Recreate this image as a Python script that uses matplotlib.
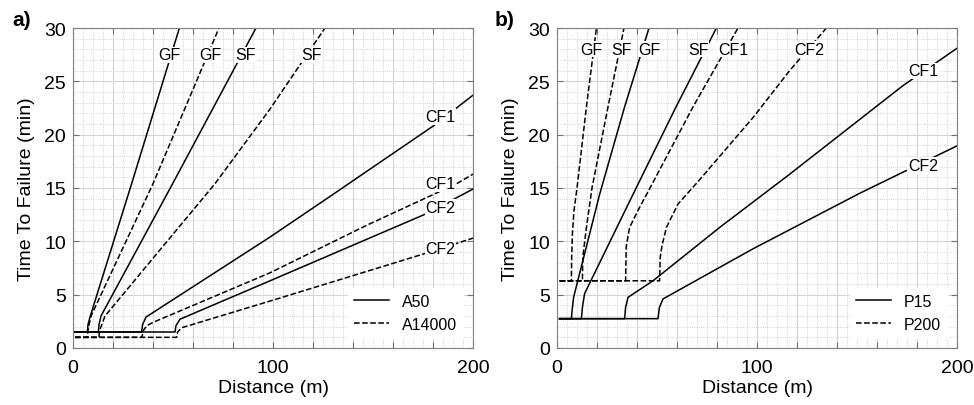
import numpy as np
import matplotlib
matplotlib.use('Agg')
import matplotlib.pyplot as plt
from matplotlib.ticker import MultipleLocator, FixedFormatter, FixedLocator
from matplotlib.lines import Line2D

plt.rcParams['font.family'] = ['Liberation Sans', 'DejaVu Sans']

# ---- panel a) : A50 (solid), A14000 (dashed)
a50_gf_x = [1, 7.2, 7.5, 8.5, 29.3, 53.2]
a50_gf_t = [1.5, 1.5, 2.2, 2.9, 15.4, 30]
a50_sf_x = [1, 12.7, 13.0, 14.0, 49.8, 91.5]
a50_sf_t = [1.5, 1.5, 2.2, 3.0, 15.4, 30]
a50_cf1_x = [1, 34.3, 34.8, 36.5, 98.5, 130, 180, 200]
a50_cf1_t = [1.5, 1.5, 2.2, 2.9, 10.4, 14.4, 20.8, 23.7]
a50_cf2_x = [1, 51, 51.5, 53.5, 98.5, 176.8, 200]
a50_cf2_t = [1.5, 1.5, 2.1, 2.7, 6.3, 12.6, 14.9]

a14k_gf_x = [1, 7.3, 7.4, 9, 40, 73]
a14k_gf_t = [1.0, 1.0, 1.6, 3, 15.4, 30]
a14k_sf_x = [1, 13.0, 13.2, 16, 71, 98.5, 126]
a14k_sf_t = [1.0, 1.0, 1.6, 3.0, 15.4, 22.4, 30]
a14k_cf1_x = [1, 34.5, 35, 37, 40, 98.5, 146.8, 191.8, 200]
a14k_cf1_t = [1.0, 1.0, 1.6, 2.1, 2.4, 7.05, 11.5, 15.4, 16.3]
a14k_cf2_x = [1, 51.8, 52.3, 54.3, 98.5, 175, 200]
a14k_cf2_t = [1.0, 1.0, 1.5, 1.9, 4.4, 8.8, 10.3]

# ---- panel b) : P15 (solid), P200 (dashed)
p15_gf_x = [1.3, 7.2, 7.6, 8.3, 21.3, 33.8, 46]
p15_gf_t = [2.75, 2.75, 3.6, 4.75, 14.4, 22.6, 30]
p15_sf_x = [1.3, 12.2, 12.7, 13.8, 38, 59.5, 79.7]
p15_sf_t = [2.75, 2.75, 3.8, 5.1, 14.4, 22.6, 30]
p15_cf1_x = [1.3, 33.8, 34.3, 35.5, 48, 82, 115, 173, 200]
p15_cf1_t = [2.75, 2.75, 3.8, 4.75, 6.3, 11.4, 16.1, 24.6, 28.1]
p15_cf2_x = [1.3, 50.5, 51.2, 53, 98, 151.3, 200]
p15_cf2_t = [2.75, 2.75, 3.8, 4.6, 9.3, 14.5, 18.95]

p200_gf_x = [1.3, 7.2, 7.3, 7.7, 8.5, 10.0, 14.7, 19.7]
p200_gf_t = [6.3, 6.3, 8.2, 10.7, 12.9, 15.0, 22.6, 30]
p200_sf_x = [1.3, 12.7, 12.9, 14.7, 17.5, 25.5, 33.5]
p200_sf_t = [6.3, 6.3, 8.5, 11.3, 15.0, 22.6, 30]
p200_cf1_x = [1.3, 34.3, 34.6, 36.3, 40.5, 46.5, 68, 90.5]
p200_cf1_t = [6.3, 6.3, 9.5, 11.3, 12.9, 15.0, 22.6, 30]
p200_cf2_x = [1.3, 51.3, 51.6, 52.5, 54.7, 60.5, 70.5, 98, 116.3, 134.7]
p200_cf2_t = [6.3, 6.3, 8.5, 9.6, 11.3, 13.5, 15.6, 21.6, 26, 30]

# curve labels: (text, x, t)
labels_a = [('GF', 48, 27.5), ('GF', 68.5, 27.5), ('SF', 86.3, 27.5), ('SF', 119.3, 27.5),
            ('CF1', 183.8, 21.7), ('CF1', 183.8, 15.4), ('CF2', 183.8, 13.2), ('CF2', 183.8, 9.3)]
labels_b = [('GF', 17.2, 28), ('SF', 32.2, 28), ('GF', 46.3, 28), ('SF', 70.8, 28),
            ('CF1', 88, 28), ('CF2', 126.3, 28), ('CF1', 183, 26), ('CF2', 183, 17.1)]

x_ticks = [0, 20, 40, 60, 80, 100, 120, 140, 160, 180, 200]
x_ticklabels = ['0', '', '', '', '', '100', '', '', '', '', '200']

fig = plt.figure(figsize=(9.74, 4.06), dpi=100)
ax_a = fig.add_axes([73/974, 57/406, 400/974, 320/406])
ax_b = fig.add_axes([557/974, 57/406, 400/974, 320/406])

lw = 1.1
ax_a.plot(a50_gf_x, a50_gf_t, 'k-', lw=lw)
ax_a.plot(a50_sf_x, a50_sf_t, 'k-', lw=lw)
ax_a.plot(a50_cf1_x, a50_cf1_t, 'k-', lw=lw)
ax_a.plot(a50_cf2_x, a50_cf2_t, 'k-', lw=lw)
ax_a.plot(a14k_gf_x, a14k_gf_t, 'k--', lw=lw)
ax_a.plot(a14k_sf_x, a14k_sf_t, 'k--', lw=lw)
ax_a.plot(a14k_cf1_x, a14k_cf1_t, 'k--', lw=lw)
ax_a.plot(a14k_cf2_x, a14k_cf2_t, 'k--', lw=lw)

ax_b.plot(p15_gf_x, p15_gf_t, 'k-', lw=lw)
ax_b.plot(p15_sf_x, p15_sf_t, 'k-', lw=lw)
ax_b.plot(p15_cf1_x, p15_cf1_t, 'k-', lw=lw)
ax_b.plot(p15_cf2_x, p15_cf2_t, 'k-', lw=lw)
ax_b.plot(p200_gf_x, p200_gf_t, 'k--', lw=lw)
ax_b.plot(p200_sf_x, p200_sf_t, 'k--', lw=lw)
ax_b.plot(p200_cf1_x, p200_cf1_t, 'k--', lw=lw)
ax_b.plot(p200_cf2_x, p200_cf2_t, 'k--', lw=lw)

for ax, labs, names in [(ax_a, labels_a, ['A50', 'A14000']), (ax_b, labels_b, ['P15', 'P200'])]:
    ax.set_xlim(0, 200)
    ax.set_ylim(0, 30)
    ax.xaxis.set_major_locator(FixedLocator(x_ticks))
    ax.xaxis.set_major_formatter(FixedFormatter(x_ticklabels))
    ax.xaxis.set_minor_locator(MultipleLocator(5))
    ax.yaxis.set_major_locator(MultipleLocator(5))
    ax.yaxis.set_minor_locator(MultipleLocator(1))
    ax.grid(which='major', color='#d4d4d4', lw=0.8, ls='-')
    ax.grid(which='minor', color='#c4c4c4', lw=0.6, ls=':')
    ax.set_axisbelow(True)
    ax.tick_params(which='major', direction='in', length=4, width=0.8, color='#707070',
                   labelsize=14, top=True, right=True)
    ax.tick_params(axis='y', pad=5)
    ax.tick_params(axis='x', pad=8)
    ax.tick_params(which='minor', length=0)
    for s in ax.spines.values():
        s.set_color('#808080')
        s.set_linewidth(0.8)
    ax.set_xlabel('Distance (m)', fontsize=14, labelpad=2)
    ax.set_ylabel('Time To Failure (min)', fontsize=14, labelpad=7)
    for txt, x, t in labs:
        ax.text(x, t, txt, fontsize=11.5, ha='center', va='center', zorder=5,
                bbox=dict(facecolor='white', edgecolor='none', pad=0.5))
    handles = [Line2D([], [], color='k', ls='-', lw=lw), Line2D([], [], color='k', ls='--', lw=lw)]
    leg = ax.legend(handles, names, loc='lower right', fontsize=11.5, frameon=True,
                    fancybox=False, edgecolor='white', framealpha=1, borderaxespad=0.6,
                    handlelength=2.2, labelspacing=0.5)
    leg.set_zorder(6)

fig.text(12/974, 1 - 20/406, 'a)', fontsize=15, fontweight='bold', va='center', ha='left')
fig.text(495/974, 1 - 20/406, 'b)', fontsize=15, fontweight='bold', va='center', ha='left')

plt.savefig('out.png', dpi=100)
